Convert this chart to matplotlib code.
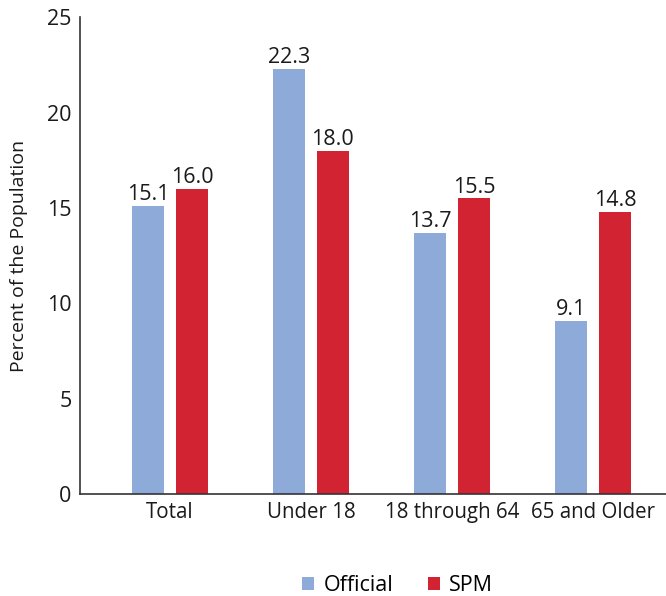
#!/usr/bin/env python

import numpy as np
import matplotlib
matplotlib.use('Agg')
import matplotlib.pyplot as plt

categories = ['Total', 'Under 18', '18 through 64', '65 and Older']
official = [15.1, 22.3, 13.7, 9.1]
spm = [16.0, 18.0, 15.5, 14.8]
series_names = ['Official', 'SPM']
colors = ['#8DAAD8', '#D22333']

plt.rcParams['font.family'] = ['Open Sans', 'DejaVu Sans']

fig = plt.figure(figsize=(6.66, 5.96), dpi=100)
ax = fig.add_axes([0.120, 0.171, 0.88, 0.80])

x = np.arange(len(categories))
width = 0.227
offset = 0.156

for vals, name, color, sign in zip([official, spm], series_names, colors, [-1, 1]):
    bars = ax.bar(x + sign * offset, vals, width, color=color, label=name)
    for b, v in zip(bars, vals):
        ax.text(b.get_x() + b.get_width() / 2, v + 0.05, f'{v:.1f}',
                ha='center', va='bottom', fontsize=15.5, color='#1a1a1a')

ax.set_xlim(-0.638, 3.518)
ax.set_ylim(0, 25)
ax.set_yticks(range(0, 26, 5))
ax.set_xticks(x)
ax.set_xticklabels(categories)
ax.tick_params(length=0, colors='#1a1a1a')
ax.tick_params(axis='y', pad=6, labelsize=15.5)
ax.tick_params(axis='x', pad=6, labelsize=14.8)
ax.set_ylabel('Percent of the Population', fontsize=14, color='#1a1a1a', labelpad=14)

for side in ['top', 'right']:
    ax.spines[side].set_visible(False)
for side in ['left', 'bottom']:
    ax.spines[side].set_color('#333333')
    ax.spines[side].set_linewidth(1.2)

fig.legend(loc='center', bbox_to_anchor=(0.597, 0.017), ncol=2, frameon=False,
           fontsize=15.5, handlelength=0.55, handleheight=0.55, handletextpad=0.45,
           columnspacing=1.6, borderaxespad=0)

fig.savefig('out.png', dpi=100)
